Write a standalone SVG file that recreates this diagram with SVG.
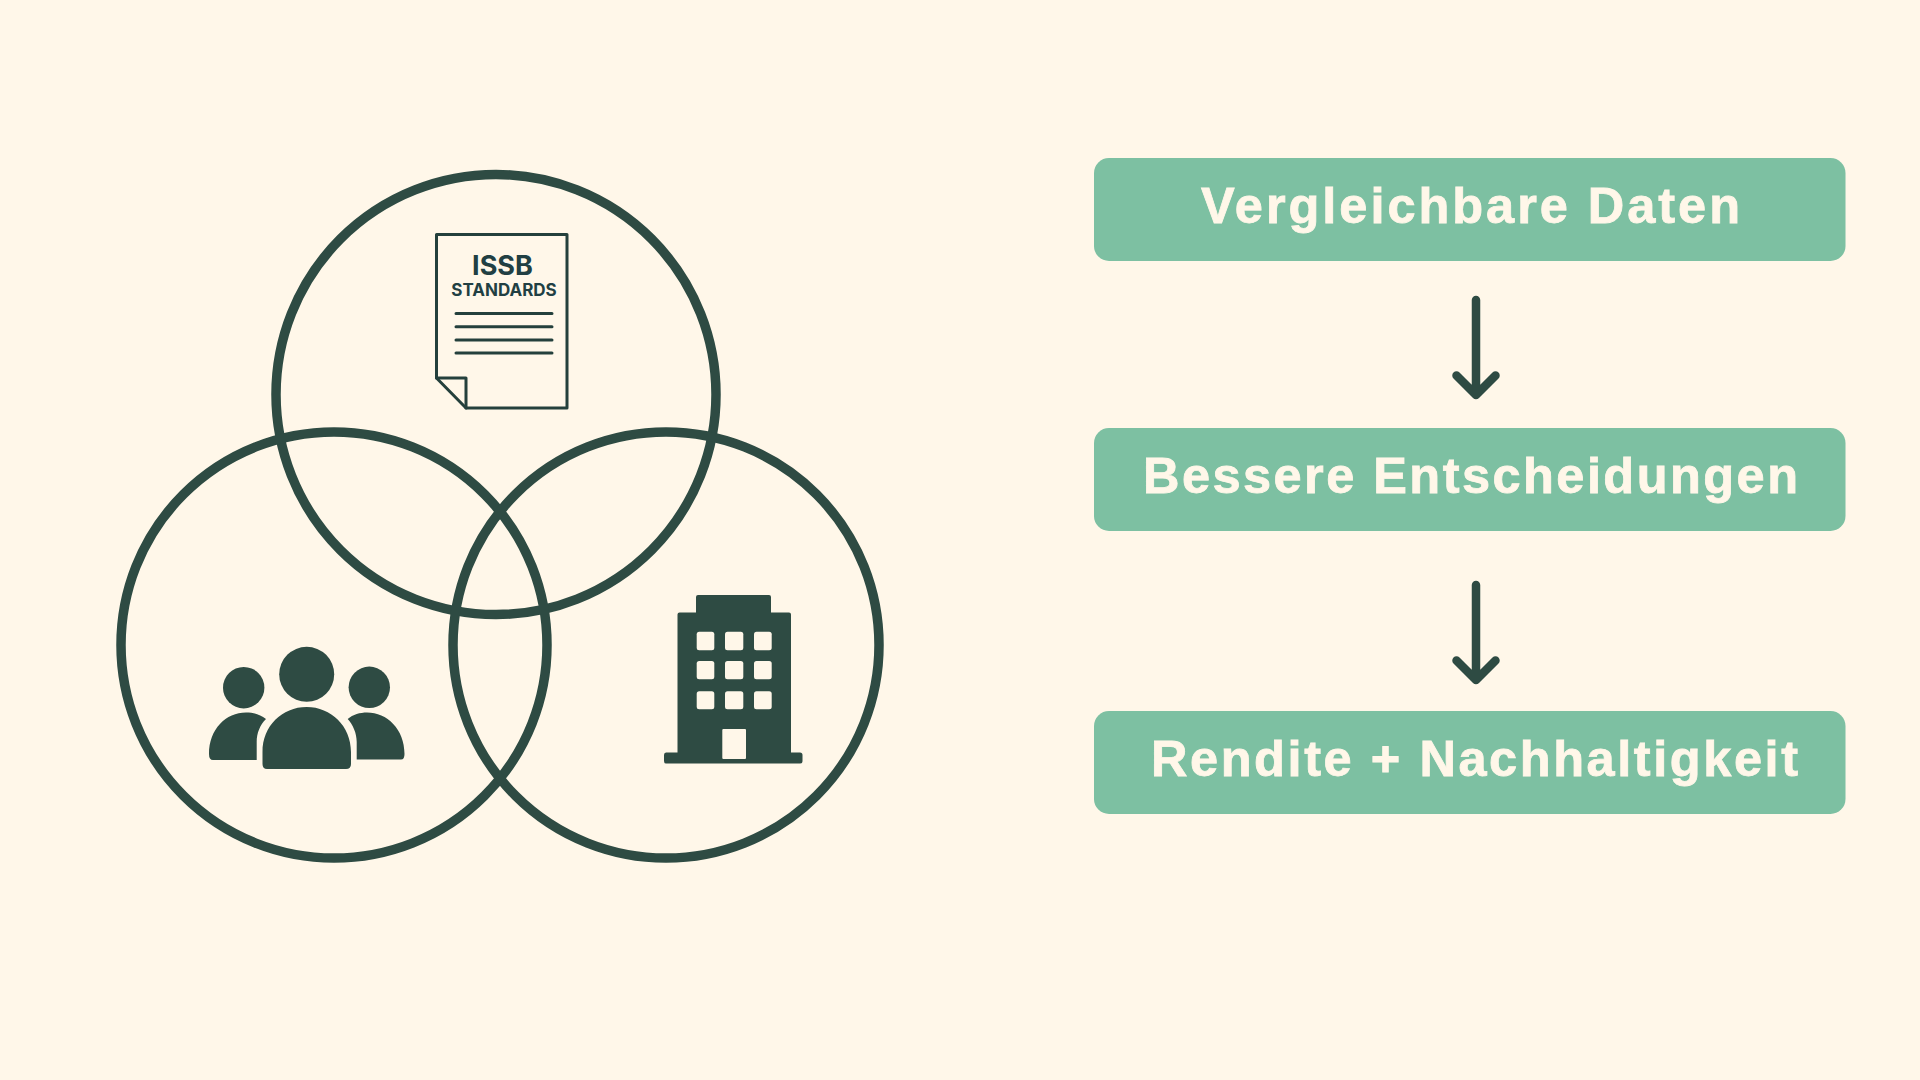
<svg xmlns="http://www.w3.org/2000/svg" width="1920" height="1080" viewBox="0 0 1920 1080">
<style>
.bg{fill:#fff7e9}
.ring{fill:none;stroke:#2e4b43;stroke-width:9.5}
.dark{fill:#2e4b43}
.win{fill:#fff7e9}
.docline{fill:none;stroke:#24403c;stroke-width:3;stroke-linecap:round;stroke-linejoin:round}
.box{fill:#7dc0a2}
.label{fill:#fff7e9;stroke:#fff7e9;stroke-width:0.8;font-family:"Liberation Sans",Arial,sans-serif;font-weight:700;font-size:50.5px}
.doct{fill:#213f43;font-family:Inter,"Liberation Sans",sans-serif;font-weight:700;text-anchor:middle}
.arrow{fill:none;stroke:#2e4b43;stroke-width:8.5;stroke-linecap:round;stroke-linejoin:round}
</style>
<rect class="bg" width="1920" height="1080"/>
<g id="connectors">
<path class="arrow" d="M1476 300V395M1456.500 375.500L1476 395L1495.500 375.500"/>
<path class="arrow" d="M1476 585V680M1456.500 660.500L1476 680L1495.500 660.500"/>
</g>
<g id="venn-top"><circle class="ring" cx="496" cy="394.500" r="220"/></g>
<g id="venn-left"><circle class="ring" cx="334" cy="645" r="213"/></g>
<g id="venn-right"><circle class="ring" cx="666" cy="645" r="213"/></g>
<g id="document">
<path class="docline" d="M436.500 234.500H567V408H466L436.500 378Z"/>
<path class="docline" d="M436.500 378H466V408"/>
<text class="doct" x="502.500" y="275" font-size="27">ISSB</text>
<text class="doct" x="504" y="295.500" font-size="17">STANDARDS</text>
<path class="docline" d="M456 313.500H552M456 326.700H552M456 340H552M456 353H552"/>
</g>
<g id="people">
<circle class="dark" cx="306.700" cy="674.300" r="27.500"/>
<path class="dark" d="M262.500 712C262.500 726 262.500 740 262.500 764Q262.500 769 267 769H346Q351 769 351 764V752C351 726 331 707 306.700 707C282 707 262.500 726 262.500 752Z"/>
<circle class="dark" cx="243.700" cy="687.700" r="20.700"/>
<path class="dark" d="M209 754C209 729 226 712.500 246 712.500C254 712.500 260 714.500 266 719C260 725 256.700 733 256.700 742V760H213Q209 760 209 754Z"/>
<circle class="dark" cx="369.300" cy="687.300" r="20.700"/>
<path class="dark" d="M404.500 754C404.500 729 387 712.500 367 712.500C360 712.500 353 714.500 347.700 719C353 725 356.700 733 356.700 742V759.500H401Q404.500 759.500 404.500 754Z"/>
</g>
<g id="building">
<path class="dark" d="M696 597Q696 595 698 595H769Q771 595 771 597V612.500H789Q791 612.500 791 614.500V752.500H800Q802.500 752.500 802.500 755V761Q802.500 763.500 800 763.500H666Q664 763.500 664 761V755Q664 752.500 666 752.500H677.500V614.500Q677.500 612.500 679.500 612.500H696Z"/>
<rect class="win" x="696.700" y="631.700" width="17.600" height="18.600" rx="2.500"/>
<rect class="win" x="725" y="631.700" width="18.300" height="18.600" rx="2.500"/>
<rect class="win" x="754" y="631.700" width="17.700" height="18.600" rx="2.500"/>
<rect class="win" x="696.700" y="661" width="17.600" height="18.300" rx="2.500"/>
<rect class="win" x="725" y="661" width="18.300" height="18.300" rx="2.500"/>
<rect class="win" x="754" y="661" width="17.700" height="18.300" rx="2.500"/>
<rect class="win" x="696.700" y="691.300" width="17.600" height="18" rx="2.500"/>
<rect class="win" x="725" y="691.300" width="18.300" height="18" rx="2.500"/>
<rect class="win" x="754" y="691.300" width="17.700" height="18" rx="2.500"/>
<rect class="win" x="722.300" y="729" width="23.700" height="30" rx="1"/>
</g>
<g id="box-daten">
<rect class="box" x="1094" y="158" width="751.500" height="103" rx="15"/>
<text class="label" x="1201" y="223" textLength="539" lengthAdjust="spacing">Vergleichbare Daten</text>
</g>
<g id="box-entscheidungen">
<rect class="box" x="1094" y="428" width="751.500" height="103" rx="15"/>
<text class="label" x="1143" y="493" textLength="655" lengthAdjust="spacing">Bessere Entscheidungen</text>
</g>
<g id="box-rendite">
<rect class="box" x="1094" y="711" width="751.500" height="103" rx="15"/>
<text class="label" x="1151" y="776" textLength="647" lengthAdjust="spacing">Rendite + Nachhaltigkeit</text>
</g>
</svg>
